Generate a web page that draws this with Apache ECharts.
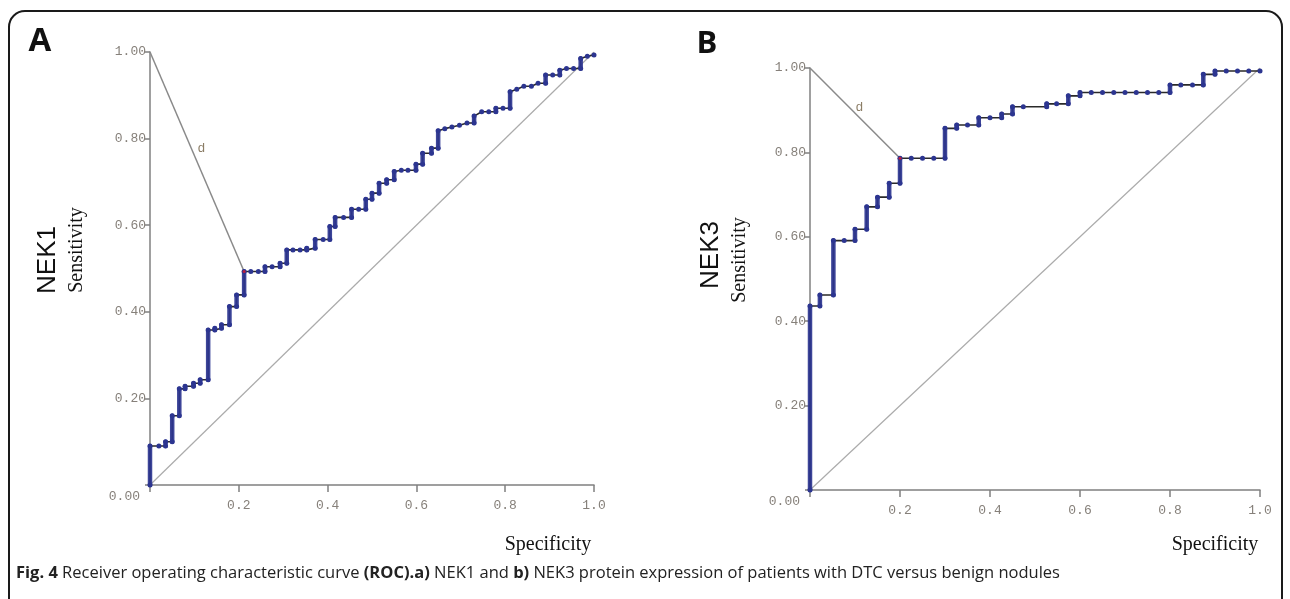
<!DOCTYPE html>
<html>
<head>
<meta charset="utf-8">
<script src="https://cdn.jsdelivr.net/npm/echarts@6/dist/echarts.min.js"></script>
<style>
  html, body { margin: 0; padding: 0; background: #fff; }
  #chart { width: 1290px; height: 599px; }
</style>
</head>
<body>
<div id="chart"></div>
<script>
// ROC points (x = axis "Specificity", y = Sensitivity)
const nek1X = [0, 0, 0.02, 0.035, 0.035, 0.05, 0.05, 0.066, 0.066, 0.079,
  0.079, 0.098, 0.098, 0.113, 0.113, 0.131, 0.131, 0.146, 0.146, 0.161,
  0.161, 0.179, 0.179, 0.195, 0.195, 0.212, 0.212, 0.227, 0.244, 0.259,
  0.259, 0.275, 0.293, 0.293, 0.308, 0.308, 0.322, 0.338, 0.353, 0.353,
  0.372, 0.372, 0.39, 0.405, 0.405, 0.417, 0.417, 0.436, 0.454, 0.454,
  0.47, 0.486, 0.486, 0.5, 0.5, 0.516, 0.516, 0.533, 0.533, 0.55,
  0.55, 0.566, 0.581, 0.599, 0.599, 0.614, 0.614, 0.634, 0.634, 0.649,
  0.649, 0.664, 0.68, 0.697, 0.714, 0.73, 0.73, 0.747, 0.763, 0.779,
  0.779, 0.795, 0.811, 0.811, 0.826, 0.842, 0.859, 0.874, 0.891, 0.891,
  0.907, 0.923, 0.923, 0.938, 0.954, 0.97, 0.97, 0.985, 1.0];
const nek1Y = [0, 0.09, 0.09, 0.09, 0.10, 0.10, 0.16, 0.16, 0.222, 0.222,
  0.228, 0.228, 0.235, 0.235, 0.243, 0.243, 0.358, 0.358, 0.362, 0.362,
  0.37, 0.37, 0.412, 0.412, 0.439, 0.439, 0.493, 0.493, 0.493, 0.493,
  0.504, 0.504, 0.504, 0.512, 0.512, 0.543, 0.543, 0.543, 0.543, 0.547,
  0.547, 0.567, 0.567, 0.567, 0.597, 0.597, 0.618, 0.618, 0.618, 0.637,
  0.637, 0.637, 0.66, 0.66, 0.674, 0.674, 0.697, 0.697, 0.705, 0.705,
  0.724, 0.727, 0.727, 0.727, 0.741, 0.741, 0.766, 0.766, 0.778, 0.778,
  0.818, 0.823, 0.827, 0.831, 0.836, 0.836, 0.852, 0.862, 0.862, 0.862,
  0.87, 0.87, 0.87, 0.908, 0.914, 0.921, 0.921, 0.928, 0.928, 0.947,
  0.947, 0.947, 0.958, 0.962, 0.962, 0.962, 0.985, 0.99, 0.993];
const nek1Cut = 26; // index of optimal cut-off (end of "d")

const nek3X = [0, 0, 0.022, 0.022, 0.052, 0.052, 0.076, 0.1, 0.1, 0.126,
  0.126, 0.15, 0.15, 0.176, 0.176, 0.2, 0.2, 0.225, 0.25, 0.275,
  0.3, 0.3, 0.326, 0.326, 0.35, 0.375, 0.375, 0.4, 0.426, 0.426,
  0.45, 0.45, 0.474, 0.526, 0.526, 0.548, 0.574, 0.574, 0.6, 0.6,
  0.625, 0.65, 0.675, 0.7, 0.725, 0.75, 0.775, 0.8, 0.8, 0.824,
  0.85, 0.874, 0.874, 0.9, 0.9, 0.925, 0.95, 0.975, 1.0];
const nek3Y = [0, 0.436, 0.436, 0.462, 0.462, 0.591, 0.591, 0.591, 0.618, 0.618,
  0.671, 0.671, 0.694, 0.694, 0.727, 0.727, 0.786, 0.786, 0.786, 0.786,
  0.786, 0.857, 0.857, 0.865, 0.865, 0.865, 0.882, 0.882, 0.882, 0.891,
  0.891, 0.908, 0.908, 0.908, 0.915, 0.915, 0.915, 0.934, 0.934, 0.942,
  0.942, 0.942, 0.942, 0.942, 0.942, 0.942, 0.942, 0.942, 0.96, 0.96,
  0.96, 0.96, 0.985, 0.985, 0.993, 0.993, 0.993, 0.993, 0.993];
const nek3Cut = 16;

const navy = '#2c3590';
const axisGray = '#808080';
const tickFont = { fontFamily: 'Liberation Mono', fontSize: 13, color: '#86807a' };

const chart = echarts.init(document.getElementById('chart'));

function pairs(xs, ys) {
  return xs.map((x, i) => [x, ys[i]]);
}

// vertical runs of the step curve (drawn thick, as in the figure)
function verticalRuns(xs, ys) {
  const runs = [];
  for (let i = 1; i < xs.length; i++) {
    if (xs[i] === xs[i - 1] && ys[i] - ys[i - 1] > 0.004) {
      runs.push([xs[i], ys[i - 1], ys[i]]);
    }
  }
  return runs;
}

function makeAxes(gi) {
  const x = {
    type: 'value', gridIndex: gi, min: 0, max: 1, interval: 0.2,
    axisLine: { onZero: false, lineStyle: { color: axisGray, width: 1.5 } },
    axisTick: { show: true, length: 7, lineStyle: { color: axisGray, width: 1.5 } },
    splitLine: { show: false },
    axisLabel: Object.assign({
      margin: 14,
      formatter: v => (v === 0 ? '' : v.toFixed(1))
    }, tickFont)
  };
  const y = {
    type: 'value', gridIndex: gi, min: 0, max: 1, interval: 0.2,
    axisLine: { onZero: false, lineStyle: { color: axisGray, width: 1.5 } },
    axisTick: { show: true, length: 5, lineStyle: { color: axisGray, width: 1.5 } },
    splitLine: { show: false },
    axisLabel: Object.assign({
      margin: 4,
      formatter: v => (v === 0 ? '{low|0.00}' : v.toFixed(2)),
      rich: { low: Object.assign({ padding: [24, 6, 0, 0] }, tickFont) }
    }, tickFont)
  };
  return [x, y];
}

function panelSeries(gi, xs, ys, cut) {
  const pts = pairs(xs, ys);
  const opt = pts[cut];
  const t = 0.44;
  const dMid = [opt[0] * t, 1 - (1 - opt[1]) * t];
  return [
    { // chance diagonal
      type: 'line', xAxisIndex: gi, yAxisIndex: gi, silent: true,
      data: [[0, 0], [1, 1]], symbol: 'none',
      lineStyle: { color: '#ababab', width: 1.2 }, z: 1
    },
    { // distance "d" to the corner
      type: 'line', xAxisIndex: gi, yAxisIndex: gi, silent: true,
      data: [[0, 1], opt], symbol: 'none',
      lineStyle: { color: '#8a8a8a', width: 1.5 }, z: 2
    },
    {
      type: 'scatter', xAxisIndex: gi, yAxisIndex: gi, silent: true,
      data: [dMid], symbolSize: 0,
      label: {
        show: true, formatter: 'd', position: 'right', distance: 6,
        fontFamily: 'Liberation Mono', fontSize: 13, color: '#6e5c40'
      }
    },
    { // step line
      type: 'line', xAxisIndex: gi, yAxisIndex: gi, silent: true,
      data: pts, symbol: 'circle', symbolSize: 5,
      itemStyle: { color: navy },
      lineStyle: { color: '#2a2a2a', width: 1.6 }, z: 3
    },
    {
      type: 'custom', xAxisIndex: gi, yAxisIndex: gi, silent: true, z: 4,
      data: verticalRuns(xs, ys),
      renderItem: (params, api) => {
        const p0 = api.coord([api.value(0), api.value(1)]);
        const p1 = api.coord([api.value(0), api.value(2)]);
        return {
          type: 'line',
          shape: { x1: p0[0], y1: p0[1], x2: p1[0], y2: p1[1] },
          style: { stroke: navy, lineWidth: 4.5, lineCap: 'round', opacity: 0.92 }
        };
      }
    },
    { // optimal point
      type: 'scatter', xAxisIndex: gi, yAxisIndex: gi, silent: true, z: 6,
      data: [opt], symbolSize: 3, itemStyle: { color: '#e0162b' }
    }
  ];
}

const [xa, ya] = makeAxes(0);
const [xb, yb] = makeAxes(1);

const serif = { fontFamily: 'Liberation Serif', fontSize: 20, fill: '#111' };
const sans = { fontFamily: 'Liberation Sans', fontSize: 26, fill: '#111' };

chart.setOption({
  backgroundColor: '#fff',
  animation: false,
  grid: [
    { left: 150, top: 52, width: 444, height: 433 },
    { left: 810, top: 68, width: 450, height: 422 }
  ],
  xAxis: [xa, xb],
  yAxis: [ya, yb],
  series: panelSeries(0, nek1X, nek1Y, nek1Cut).concat(panelSeries(1, nek3X, nek3Y, nek3Cut)),
  graphic: [
    { type: 'rect', shape: { x: 9, y: 11, width: 1273, height: 640, r: 16 },
      style: { fill: 'none', stroke: '#1a1a1a', lineWidth: 2 } },
    { type: 'text', x: 40, y: 42, style: { text: 'A', fontFamily: 'Open Sans', fontWeight: 'bold', fontSize: 33, fill: '#111', align: 'center', verticalAlign: 'middle' } },
    { type: 'text', x: 707, y: 44, style: { text: 'B', fontFamily: 'Open Sans', fontWeight: 'bold', fontSize: 31, fill: '#111', align: 'center', verticalAlign: 'middle' } },
    { type: 'text', x: 48, y: 260, rotation: Math.PI / 2, style: Object.assign({ text: 'NEK1', align: 'center', verticalAlign: 'middle' }, sans) },
    { type: 'text', x: 77, y: 250, rotation: Math.PI / 2, style: Object.assign({ text: 'Sensitivity', align: 'center', verticalAlign: 'middle' }, serif) },
    { type: 'text', x: 711, y: 255, rotation: Math.PI / 2, style: Object.assign({ text: 'NEK3', align: 'center', verticalAlign: 'middle' }, sans) },
    { type: 'text', x: 740, y: 260, rotation: Math.PI / 2, style: Object.assign({ text: 'Sensitivity', align: 'center', verticalAlign: 'middle' }, serif) },
    { type: 'text', x: 548, y: 545, style: Object.assign({ text: 'Specificity', align: 'center', verticalAlign: 'middle' }, serif) },
    { type: 'text', x: 1215, y: 545, style: Object.assign({ text: 'Specificity', align: 'center', verticalAlign: 'middle' }, serif) },
    { type: 'text', x: 16, y: 573, style: {
        text: '{b|Fig. 4} Receiver operating characteristic curve {b|(ROC).a)} NEK1 and {b|b)} NEK3 protein expression of patients with DTC versus benign nodules',
        fontFamily: 'Open Sans', fontSize: 16.5, fill: '#222', verticalAlign: 'middle',
        rich: { b: { fontFamily: 'Open Sans', fontSize: 16.5, fontWeight: 'bold', fill: '#222' } }
      } }
  ]
});
</script>
</body>
</html>
